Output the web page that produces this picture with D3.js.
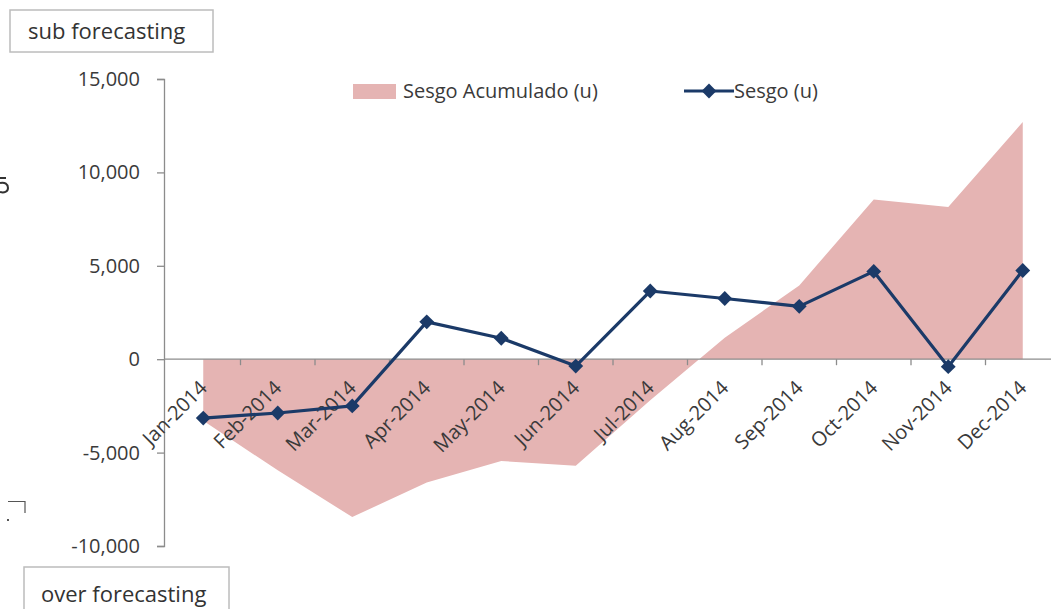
<!DOCTYPE html>
<html>
<head>
<meta charset="utf-8">
<script src="https://cdn.jsdelivr.net/npm/d3@7"></script>
<style>
  html, body { margin: 0; padding: 0; background: #fff; }
  svg { display: block; font-family: "Open Sans", "DejaVu Sans", sans-serif; }
</style>
</head>
<body>
<svg id="chart" width="1051" height="609"></svg>
<script>
// Monthly forecast bias (units) and its running total
const months = ["Jan-2014", "Feb-2014", "Mar-2014", "Apr-2014", "May-2014", "Jun-2014",
                "Jul-2014", "Aug-2014", "Sep-2014", "Oct-2014", "Nov-2014", "Dec-2014"];
const sesgo = [-3150, -2880, -2500, 2000, 1120, -370, 3650, 3250, 2830, 4700, -400, 4750];
const sesgoAcumulado = [-3300, -5950, -8450, -6600, -5450, -5700, -2200, 1150, 3950, 8550, 8150, 12700];
const yTicks = [-10000, -5000, 0, 5000, 10000, 15000];
const seriesNames = ["Sesgo Acumulado (u)", "Sesgo (u)"];

const svg = d3.select("#chart");
const W = 1051;

const x = d3.scaleBand().domain(months).range([166, 1060]).paddingInner(0).paddingOuter(0);
const y = d3.scaleLinear().domain([-10000, 15000]).range([546, 79]);
const cx = m => x(m) + x.bandwidth() / 2;

const areaColor = "#e5b4b3";
const lineColor = "#1b3a68";
const axisColor = "#8c8c8c";
const textColor = "#3a3a3a";

// plain hyphen for negative numbers
const fmt = d3.formatLocale({ decimal: ".", thousands: ",", grouping: [3], currency: ["", ""], minus: "-" }).format(",");

// cumulative bias area
const area = d3.area()
  .x((d, i) => cx(months[i]))
  .y0(y(0))
  .y1(d => y(d));
svg.append("path")
  .datum(sesgoAcumulado)
  .attr("d", area)
  .attr("fill", areaColor);

// y axis
const yAxis = d3.axisLeft(y)
  .tickValues(yTicks)
  .tickFormat(fmt)
  .tickSize(7)
  .tickPadding(17);
const gy = svg.append("g").attr("transform", "translate(164,0)").call(yAxis);
gy.select(".domain").attr("stroke", axisColor).attr("stroke-width", 1.3);
gy.selectAll(".tick line").attr("stroke", axisColor).attr("stroke-width", 1.3);
gy.selectAll(".tick text")
  .attr("fill", textColor)
  .attr("font-size", 20)
  .attr("font-family", "Open Sans, sans-serif");

// horizontal category axis at zero, ticks between categories
svg.append("line")
  .attr("x1", 164).attr("x2", W)
  .attr("y1", y(0)).attr("y2", y(0))
  .attr("stroke", axisColor).attr("stroke-width", 1.3);
svg.append("g").selectAll("line")
  .data(months.slice(1))
  .join("line")
  .attr("x1", d => x(d)).attr("x2", d => x(d))
  .attr("y1", y(0)).attr("y2", y(0) + 6)
  .attr("stroke", axisColor).attr("stroke-width", 1.3);

// rotated month labels
svg.append("g").selectAll("text")
  .data(months)
  .join("text")
  .attr("transform", d => `translate(${cx(d) + 5},${y(0) + 30}) rotate(-45)`)
  .attr("text-anchor", "end")
  .attr("font-size", 20)
  .attr("fill", textColor)
  .text(d => d);

// bias line with diamond markers
const line = d3.line()
  .x((d, i) => cx(months[i]))
  .y(d => y(d));
svg.append("path")
  .datum(sesgo)
  .attr("d", line)
  .attr("fill", "none")
  .attr("stroke", lineColor)
  .attr("stroke-width", 3.2)
  .attr("stroke-linejoin", "round");
const marker = d3.symbol().type(d3.symbolSquare).size(110);
svg.append("g").selectAll("path")
  .data(sesgo)
  .join("path")
  .attr("transform", (d, i) => `translate(${cx(months[i])},${y(d)}) rotate(45)`)
  .attr("d", marker)
  .attr("fill", lineColor);

// legend
const lg = svg.append("g");
lg.append("rect").attr("x", 353).attr("y", 84).attr("width", 43).attr("height", 15).attr("fill", areaColor);
lg.append("text").attr("x", 403).attr("y", 98).attr("font-size", 20).attr("fill", textColor).text(seriesNames[0]);
lg.append("line").attr("x1", 684).attr("x2", 734).attr("y1", 91).attr("y2", 91)
  .attr("stroke", lineColor).attr("stroke-width", 3.2);
lg.append("path").attr("transform", "translate(709,91) rotate(45)")
  .attr("d", marker).attr("fill", lineColor);
lg.append("text").attr("x", 734).attr("y", 98).attr("font-size", 20).attr("fill", textColor).text(seriesNames[1]);

// annotation boxes
function noteBox(x0, y0, w, h, label, tx, ty) {
  svg.append("rect").attr("x", x0).attr("y", y0).attr("width", w).attr("height", h)
    .attr("fill", "#fff").attr("stroke", "#bcbcbc").attr("stroke-width", 1.5);
  svg.append("text").attr("x", tx).attr("y", ty).attr("font-size", 22).attr("fill", "#333").text(label);
}
noteBox(10, 10, 203, 42, "sub forecasting", 28, 39);
noteBox(24, 567, 205, 50, "over forecasting", 41, 602);

// clipped shape fragments at the left edge
svg.append("path").attr("d", "M0,178 H6 M0,183 C5,182 8,184 8,188 C8,192 4,193 0,192")
  .attr("fill", "none").attr("stroke", "#333").attr("stroke-width", 2);
svg.append("path").attr("d", "M8,501.5 H25 V513").attr("fill", "none").attr("stroke", "#555").attr("stroke-width", 1.2);
svg.append("rect").attr("x", 7).attr("y", 519).attr("width", 2).attr("height", 2).attr("fill", "#555");
</script>
</body>
</html>
